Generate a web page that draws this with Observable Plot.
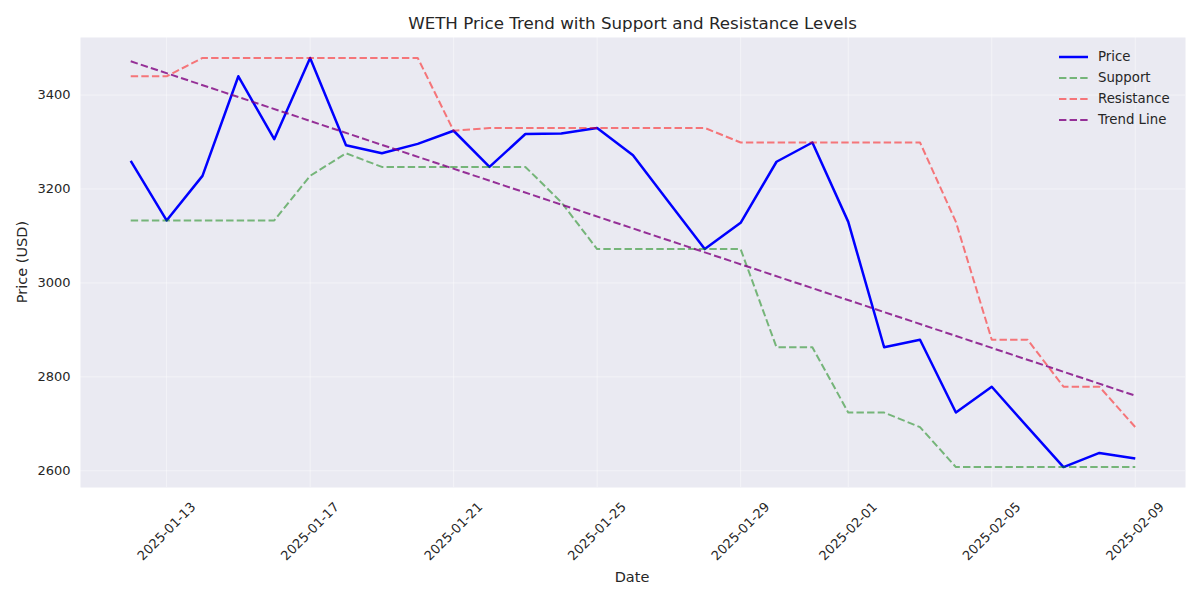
<!DOCTYPE html>
<html>
<head>
<meta charset="utf-8">
<script src="https://cdn.jsdelivr.net/npm/d3@7"></script>
<script src="https://cdn.jsdelivr.net/npm/@observablehq/plot@0.6"></script>
<style>
  body { margin: 0; background: #fff; font-family: "DejaVu Sans", sans-serif; color: #262626; }
  #wrap { position: relative; width: 1200px; height: 600px; overflow: hidden; }
  #title { height: 37px; position: relative; }
  #title span { position: absolute; left: 80px; width: 1105px; top: 13px; text-align: center; font-size: 16.7px; line-height: 20px; }
  .lab { position: absolute; font-size: 14.5px; line-height: 18px; white-space: nowrap; }
  #ylab { left: 22px; top: 262px; transform: translate(-50%, -50%) rotate(-90deg); }
  #xlab { left: 632px; top: 577px; transform: translate(-50%, -50%); }
  #legend { position: absolute; left: 1059px; top: 46px; font-size: 13.3px; }
  #legend .row { height: 21px; display: flex; align-items: center; }
  #legend svg { width: 29px; height: 6px; margin-right: 10px; }
</style>
</head>
<body>
<div id="wrap">
  <div id="title"><span>WETH Price Trend with Support and Resistance Levels</span></div>
  <div id="chart"></div>
  <div class="lab" id="ylab">Price (USD)</div>
  <div class="lab" id="xlab">Date</div>
  <div id="legend"></div>
</div>
<script>
const dates = ["2025-01-12","2025-01-13","2025-01-14","2025-01-15","2025-01-16","2025-01-17","2025-01-18","2025-01-19","2025-01-20","2025-01-21","2025-01-22","2025-01-23","2025-01-24","2025-01-25","2025-01-26","2025-01-27","2025-01-28","2025-01-29","2025-01-30","2025-01-31","2025-02-01","2025-02-02","2025-02-03","2025-02-04","2025-02-05","2025-02-06","2025-02-07","2025-02-08","2025-02-09"];
const price = [3260,3133,3228,3440,3306,3479,3293,3276,3296,3324,3247,3317,3318,3330,3272,3172,3072,3128,3258,3299,3130,2863,2879,2724,2779,2693,2608,2638,2626];
const support = [3133,3133,3133,3133,3133,3228,3276,3247,3247,3247,3247,3247,3172,3072,3072,3072,3072,3072,2863,2863,2724,2724,2693,2608,2608,2608,2608,2608,2608];
const resistance = [3440,3440,3479,3479,3479,3479,3479,3479,3479,3324,3330,3330,3330,3330,3330,3330,3330,3299,3299,3299,3299,3299,3299,3130,2879,2879,2779,2779,2693];
const trendDates = ["2025-01-12","2025-02-09"];
const trendValues = [3472, 2760];
const xTickLabels = ["2025-01-13","2025-01-17","2025-01-21","2025-01-25","2025-01-29","2025-02-01","2025-02-05","2025-02-09"];
const yTicks = [2600, 2800, 3000, 3200, 3400];
const seriesNames = ["Price","Support","Resistance","Trend Line"];

const parse = d3.utcParse("%Y-%m-%d");
const rows = dates.map((d, i) => ({date: parse(d), price: price[i], support: support[i], resistance: resistance[i]}));
const trendRows = trendDates.map((d, i) => ({date: parse(d), value: trendValues[i]}));
const xTicks = xTickLabels.map(parse);

const xExt = d3.extent(rows, r => r.date);
const xPad = (xExt[1] - xExt[0]) * 0.05;
const allY = [...price, ...support, ...resistance, ...trendValues];
const yExt = d3.extent(allY);
const yPad = (yExt[1] - yExt[0]) * 0.05;

const dash = "7.4,3.2";
const styles = {
  "Price": {stroke: "blue", opacity: 1, dash: null, width: 2.5},
  "Support": {stroke: "green", opacity: 0.5, dash, width: 2},
  "Resistance": {stroke: "red", opacity: 0.5, dash, width: 2},
  "Trend Line": {stroke: "purple", opacity: 0.8, dash, width: 2}
};

const chart = Plot.plot({
  width: 1200,
  height: 563,
  marginTop: 0,
  marginBottom: 113,
  marginLeft: 80,
  marginRight: 15,
  style: {fontFamily: "DejaVu Sans, sans-serif", color: "#262626", background: "transparent"},
  x: {type: "utc", domain: [new Date(+xExt[0] - xPad), new Date(+xExt[1] + xPad)]},
  y: {domain: [yExt[0] - yPad, yExt[1] + yPad]},
  marks: [
    Plot.frame({fill: "#EAEAF2", stroke: null}),
    Plot.gridX(xTicks, {stroke: "white", strokeOpacity: 0.45, strokeWidth: 1}),
    Plot.gridY(yTicks, {stroke: "white", strokeOpacity: 0.45, strokeWidth: 1}),
    Plot.axisY(yTicks, {tickSize: 0, tickPadding: 10, fontSize: 13, label: null, fill: "#262626", tickFormat: d3.format("d")}),
    Plot.axisX({ticks: [], label: null, tickSize: 0}),
    Plot.text(xTicks, {x: d => d, frameAnchor: "bottom", dy: 44, rotate: -45, textAnchor: "middle", lineAnchor: "middle",
      text: d => d3.utcFormat("%Y-%m-%d")(d), fontSize: 13, fill: "#262626"}),
    Plot.line(rows, {x: "date", y: "price", stroke: "blue", strokeWidth: 2.5, strokeLinejoin: "round", strokeLinecap: "butt"}),
    Plot.line(rows, {x: "date", y: "support", stroke: "green", strokeOpacity: 0.5, strokeWidth: 2, strokeDasharray: dash, strokeLinecap: "butt"}),
    Plot.line(rows, {x: "date", y: "resistance", stroke: "red", strokeOpacity: 0.5, strokeWidth: 2, strokeDasharray: dash, strokeLinecap: "butt"}),
    Plot.line(trendRows, {x: "date", y: "value", stroke: "purple", strokeOpacity: 0.8, strokeWidth: 2, strokeDasharray: dash, strokeLinecap: "butt"})
  ]
});
document.getElementById("chart").appendChild(chart);

const legend = document.getElementById("legend");
for (const name of seriesNames) {
  const s = styles[name];
  const row = document.createElement("div");
  row.className = "row";
  row.innerHTML = `<svg viewBox="0 0 29 6"><line x1="0" y1="3" x2="29" y2="3" stroke="${s.stroke}" stroke-opacity="${s.opacity}" stroke-width="${s.width}" ${s.dash ? `stroke-dasharray="${s.dash}"` : ""}/></svg><span>${name}</span>`;
  legend.appendChild(row);
}
</script>
</body>
</html>
